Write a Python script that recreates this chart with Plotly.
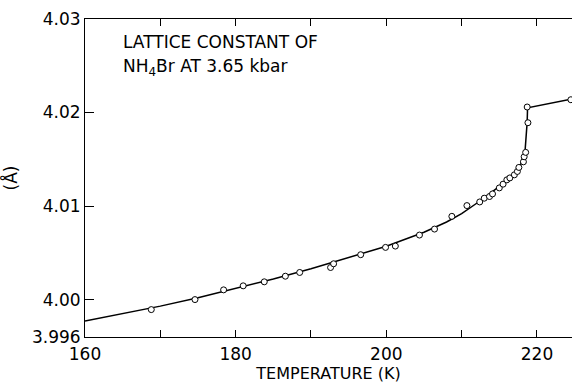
import plotly.graph_objects as go

# measured data points (temperature K, lattice constant Å)
temp_pts = [168.8, 174.6, 178.4, 181.0, 183.8, 186.6, 188.5, 192.6, 193.0, 196.6,
            199.9, 201.2, 204.4, 206.4, 208.7, 210.7, 212.4, 213.0, 213.7, 214.1,
            215.0, 215.5, 216.0, 216.4, 217.0, 217.4, 217.6, 218.2, 218.3, 218.5,
            218.8, 218.7, 224.5]
a_pts = [3.99893, 4.0000, 4.00104, 4.00147, 4.0019, 4.0025, 4.0029, 4.00343, 4.00383, 4.0048,
         4.00558, 4.00572, 4.0069, 4.00754, 4.0089, 4.01005, 4.01044, 4.01084, 4.01102, 4.0113,
         4.01194, 4.01234, 4.0128, 4.01301, 4.01334, 4.0137, 4.01413, 4.01473, 4.01527, 4.01574,
         4.01891, 4.02059, 4.02137]

# fitted curve
temp_curve = [160, 165, 170, 175, 180, 185, 190, 195, 200, 205, 208, 210, 212, 214,
              215, 216, 217, 217.5, 218, 218.4, 218.6, 218.7, 218.75, 224.65]
a_curve = [3.9977, 3.9985, 3.9993, 4.0002, 4.0012, 4.0022, 4.0033, 4.0045, 4.0057, 4.0072,
           4.0083, 4.0092, 4.0103, 4.0115, 4.0121, 4.0128, 4.0135, 4.0140, 4.0147, 4.0157,
           4.0175, 4.0190, 4.0205, 4.02145]

x_tickvals = [160, 180, 200, 220]
x_ticktext = ["160", "180", "200", "220"]
x_minor = [170, 190, 210]
y_tickvals = [3.996, 4.00, 4.01, 4.02, 4.03]
y_ticktext = ["3.996", "4.00", "4.01", "4.02", "4.03"]

FONT = "DejaVu Sans, sans-serif"

fig = go.Figure()
fig.add_trace(go.Scatter(x=temp_curve, y=a_curve, mode="lines",
                         line=dict(color="black", width=1.5), hoverinfo="skip"))
fig.add_trace(go.Scatter(x=temp_pts, y=a_pts, mode="markers",
                         marker=dict(symbol="circle", size=6, color="white",
                                     line=dict(color="black", width=1))))

fig.update_layout(
    width=572, height=383,
    margin=dict(l=85, r=0, t=19, b=46),
    paper_bgcolor="white", plot_bgcolor="white",
    showlegend=False,
    font=dict(family=FONT, size=17, color="black"),
    xaxis=dict(range=[160, 224.65], tickmode="array", tickvals=x_tickvals, ticktext=x_ticktext,
               ticks="inside", ticklen=7, tickwidth=1, tickcolor="black",
               minor=dict(tickmode="array", tickvals=x_minor, ticks="inside", ticklen=7,
                          tickwidth=1, tickcolor="black", showgrid=False),
               showline=True, linecolor="black", linewidth=1, mirror="ticks",
               showgrid=False, zeroline=False, tickfont=dict(size=17),
               ticklabelstandoff=2,
               title=dict(text="TEMPERATURE (K)", font=dict(size=16), standoff=5)),
    yaxis=dict(range=[3.996, 4.03], tickvals=y_tickvals, ticktext=y_ticktext,
               ticks="inside", ticklen=9, tickwidth=1, tickcolor="black",
               showline=True, linecolor="black", linewidth=1,
               showgrid=False, zeroline=False, tickfont=dict(size=17),
               title=dict(text="(Å)", font=dict(size=17), standoff=9)),
    annotations=[
        dict(x=0.073, y=0.928, xref="paper", yref="paper", xanchor="left", yanchor="middle",
             text="LATTICE CONSTANT OF", showarrow=False, font=dict(size=17)),
        dict(x=0.073, y=0.848, xref="paper", yref="paper", xanchor="left", yanchor="middle",
             text="NH<sub>4</sub>Br AT 3.65 kbar", showarrow=False, font=dict(size=17)),
    ],
)

fig.write_html("out.html")
